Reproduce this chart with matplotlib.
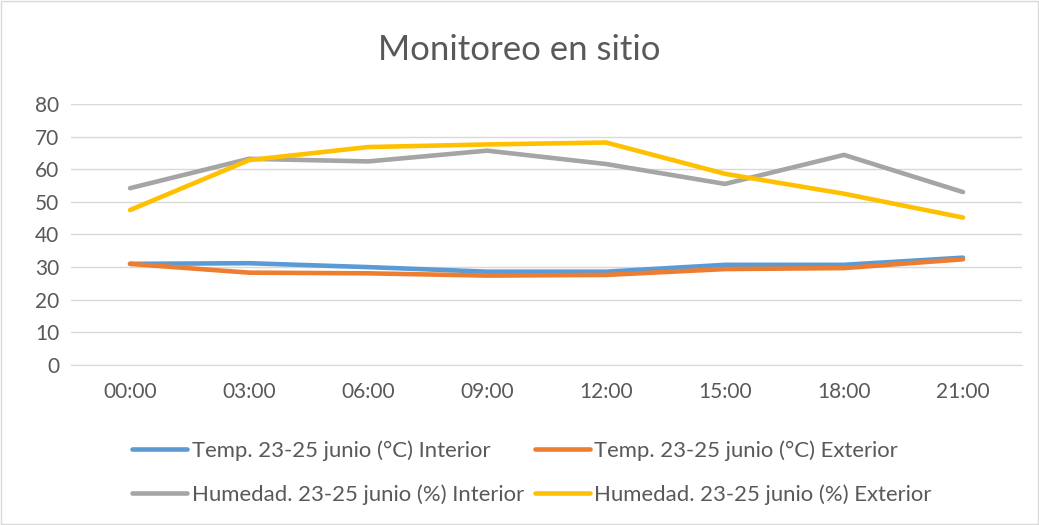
import matplotlib
matplotlib.use("Agg")
import matplotlib.pyplot as plt
from matplotlib.patches import Rectangle

plt.rcParams['font.family'] = ['Lato', 'DejaVu Sans']

horas = ["00:00", "03:00", "06:00", "09:00", "12:00", "15:00", "18:00", "21:00"]
temp_interior = [31.0, 31.2, 30.0, 28.6, 28.6, 30.7, 30.7, 32.9]
temp_exterior = [31.0, 28.3, 28.1, 27.4, 27.6, 29.4, 29.7, 32.4]
hum_interior = [54.2, 63.2, 62.4, 65.7, 61.6, 55.5, 64.4, 53.0]
hum_exterior = [47.5, 62.8, 66.8, 67.6, 68.2, 58.6, 52.5, 45.2]

etiquetas = [
    "Temp. 23-25 junio (°C) Interior",
    "Temp. 23-25 junio (°C) Exterior",
    "Humedad. 23-25 junio (%) Interior",
    "Humedad. 23-25 junio (%) Exterior",
]
colores = ["#5B9BD5", "#ED7D31", "#A5A5A5", "#FFC000"]
yticks = [0, 10, 20, 30, 40, 50, 60, 70, 80]

texto = "#595959"
rejilla = "#D9D9D9"

fig = plt.figure(figsize=(10.39, 5.25), dpi=100)
fig.patches.append(Rectangle((0.001, 0.001), 0.998, 0.997, transform=fig.transFigure,
                             fill=False, edgecolor=rejilla, linewidth=1.0))

ax = fig.add_axes([0.0679, 0.3048, 0.9162, 0.4971])
x = list(range(len(horas)))
lineas = []
for serie, etiqueta, color in zip([temp_interior, temp_exterior, hum_interior, hum_exterior],
                                  etiquetas, colores):
    (l,) = ax.plot(x, serie, color=color, linewidth=3.3, label=etiqueta,
                   solid_capstyle="round", solid_joinstyle="round", zorder=3)
    lineas.append(l)

ax.set_xlim(-0.5, len(horas) - 0.5)
ax.set_ylim(0, 80)
ax.set_yticks(yticks)
ax.set_xticks(x)
ax.set_xticklabels(horas)
ax.grid(axis="y", color=rejilla, linewidth=1.0, zorder=0)
for s in ["top", "right", "left"]:
    ax.spines[s].set_visible(False)
ax.spines["bottom"].set_color(rejilla)
ax.tick_params(axis="both", length=0, labelsize=15, colors=texto)
ax.tick_params(axis="x", pad=12)
ax.tick_params(axis="y", pad=8)

fig.text(0.5, 0.905, "Monitoreo en sitio", ha="center", va="center",
         fontsize=25, color=texto)

orden = [0, 2, 1, 3]
leg = fig.legend([lineas[i] for i in orden], [etiquetas[i] for i in orden],
                 ncol=2, loc="center", bbox_to_anchor=(0.512, 0.100),
                 frameon=False, fontsize=15.9, handlelength=2.5,
                 handletextpad=0.2, columnspacing=0.5, labelspacing=1.05,
                 labelcolor=texto)

fig.savefig("out.png", dpi=100)
